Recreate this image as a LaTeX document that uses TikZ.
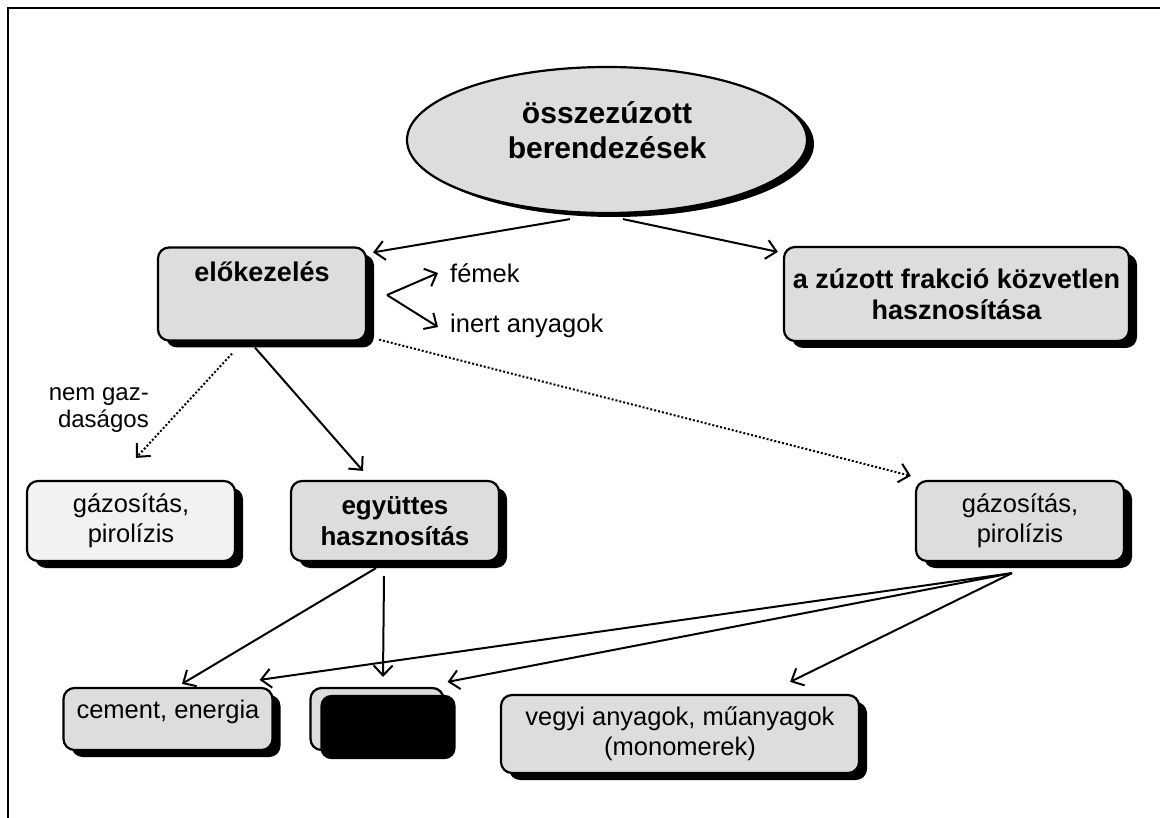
\documentclass[tikz,border=0pt]{standalone}
\usepackage{fontspec}
\setmainfont{Liberation Sans}
\usepackage{tikz}
\usetikzlibrary{positioning, shapes.geometric, shadows, arrows.meta, calc}

\definecolor{boxgray}{HTML}{DDDDDD}
\definecolor{palegray}{HTML}{F2F2F2}

\tikzset{
    box/.style={draw=black, line width=2.2pt, rounded corners=11pt, fill=boxgray, align=center, inner sep=0pt},
    card/.style={box, drop shadow={shadow xshift=8pt, shadow yshift=-7pt, fill=black, opacity=1}},
    plain/.style={font=\fontsize{25.5}{30}\selectfont},
    heavy/.style={font=\bfseries\fontsize{#1}{31}\selectfont},
    arr/.style={line width=2pt, -{Straight Barb[length=10pt, width=19pt]}},
    dotarr/.style={arr, dash pattern=on 2pt off 2pt},
}

\begin{document}
\begin{tikzpicture}[x=1pt, y=-1pt]
    \useasboundingbox (0,0) rectangle (1160,818);

    % frame
    \draw[line width=2.8pt] (8,818) -- (8,8) -- (1160,8);

    % top
    \node[ellipse, draw, line width=2.2pt, fill=boxgray, minimum width=400pt, minimum height=146pt,
          inner sep=0pt, align=center, font=\bfseries\fontsize{30}{35}\selectfont, text depth=20pt,
          drop shadow={shadow xshift=7pt, shadow yshift=-4pt, fill=black, opacity=1}]
        (crushed) at (607,140) {összezúzott\\berendezések};

    % second row
    \node[card, heavy=27, minimum width=208pt, inner ysep=13pt, text height=21pt, text depth=46pt]
        (pretreat) at (262,294) {előkezelés};
    \node[card, heavy=27, minimum width=345pt, minimum height=94pt]
        (direct) at (956.5,294) {a zúzott frakció közvetlen\\hasznosítása};

    \node[plain, anchor=west, inner sep=0pt] (metals) at (450,273) {fémek};
    \node[plain, anchor=west, inner sep=0pt] (inert) at (450,326) {inert anyagok};
    \coordinate (fork) at (387,295);

    \node[align=right, anchor=east, inner sep=0pt, font=\fontsize{24}{27}\selectfont]
        (uneconomic) at (149,410) {nem gaz-\\daságos};

    % third row
    \node[card, plain, fill=palegray, minimum width=208pt, minimum height=80pt]
        (gasleft) at (131,521) {gázosítás,\\pirolízis};
    \node[card, heavy=26, minimum width=208pt, minimum height=80pt]
        (joint) at (395,521) {együttes\\hasznosítás};
    \node[card, plain, minimum width=208pt, minimum height=80pt]
        (gasright) at (1020,521) {gázosítás,\\pirolízis};

    % bottom row
    \node[card, plain, minimum width=209pt, inner ysep=10pt, text height=20pt, text depth=22pt]
        (cement) at (168,719) {cement, energia};
    \node[box, minimum width=133pt, minimum height=62pt] (hidden) at (377,719) {};
    \fill[black, rounded corners=11pt] ($(hidden.north west)+(11,8)$) rectangle ($(hidden.south east)+(11,8)$);
    \node[card, plain, minimum width=358pt, minimum height=78pt]
        (chemicals) at (680,734) {vegyi anyagok, műanyagok\\(monomerek)};

    \coordinate (gasout) at ($(gasright.south)+(-8,11)$);

    % arrows
    \draw[arr] ($(crushed.south)+(-37,5)$) -- ($(pretreat.north east)+(6,6)$);
    \draw[arr] ($(crushed.south)+(16,5)$) -- ($(direct.north west)+(-5,6)$);
    \draw[arr] (fork) -- ($(metals.west)+(-12,0)$);
    \draw[arr] (fork) -- ($(inert.west)+(-12,1)$);

    \draw[dotarr] ($(pretreat.south)+(-30,12)$) -- ($(gasleft.north)+(5,-22)$);
    \draw[arr] ($(pretreat.south)+(-7,6)$) -- ($(joint.north)+(-32,-9)$);
    \draw[dotarr] ($(pretreat.south east)+(12,-2)$) -- ($(gasright.north west)+(-4,-4)$);

    \draw[arr] ($(joint.south)+(-19,6)$) -- ($(cement.north)+(14,-3)$);
    \draw[arr] ($(joint.south)+(-11,14)$) -- ($(hidden.north)+(6,-10)$);

    \foreach \dst/\dx/\dy in {cement.north east/-14/-7, hidden.north east/3/-5, chemicals.north east/-70/-12}
    {
        \draw[arr] (gasout) -- ($(\dst)+(\dx,\dy)$);
    }
\end{tikzpicture}
\end{document}
